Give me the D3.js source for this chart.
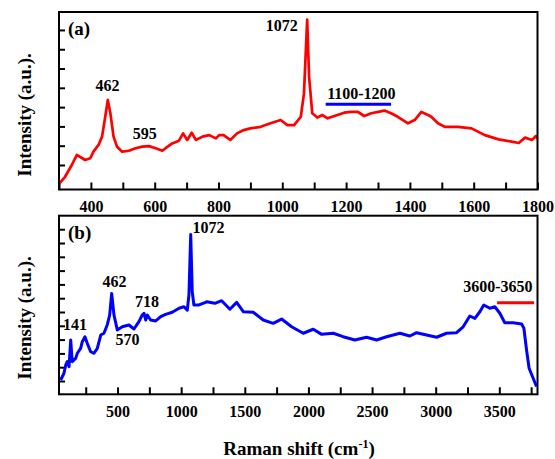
<!DOCTYPE html>
<html>
<head>
<meta charset="utf-8" />
<title>Raman spectra</title>
<script src="https://cdn.jsdelivr.net/npm/d3@7"></script>
<style>
body { margin: 0; background: #fff; }
svg text { font-family: "Liberation Serif", "Times New Roman", serif; font-weight: bold; fill: #000; }
</style>
</head>
<body>
<svg id="chart" width="555" height="459"></svg>
<script>
// panel (a) spectrum, 300-1800 cm-1
var shiftA = [300,319,340,356,382,398,408,424,435,445,453,461,471,482,498,519,540,561,582,603,624,634,655,676,689,702,716,729,750,771,792,802,816,837,858,879,900,932,963,995,1016,1037,1058,1068,1078,1084,1094,1110,1126,1142,1173,1194,1215,1236,1257,1279,1320,1341,1362,1394,1415,1436,1457,1467,1488,1509,1551,1593,1635,1678,1719,1741,1761,1783,1795,1800];
var intA = [0.02,0.39,1.00,1.52,1.26,1.35,1.69,2.04,2.47,3.50,4.37,3.68,2.47,1.95,1.69,1.74,1.87,1.95,1.98,1.87,1.74,1.87,2.12,2.26,2.64,2.30,2.67,2.30,2.47,2.55,2.38,2.55,2.55,2.30,2.64,2.81,2.90,2.98,3.16,3.33,3.07,3.07,3.50,4.71,8.54,5.57,3.68,3.46,3.59,3.42,3.59,3.71,3.75,3.76,3.54,3.68,3.82,3.68,3.50,3.16,3.33,3.75,3.59,3.50,3.16,2.98,2.98,2.90,2.55,2.33,2.21,2.14,2.42,2.30,2.50,2.35];

// panel (b) spectrum, 40-3800 cm-1
var shiftB = [53,79,93,105,119,132,144,171,184,210,223,244,262,289,315,341,368,393,419,438,454,472,498,537,590,629,668,694,708,721,734,760,800,839,878,930,983,1022,1048,1061,1075,1087,1100,1140,1192,1200,1265,1318,1383,1436,1488,1566,1645,1723,1789,1868,1959,2038,2104,2195,2273,2365,2457,2536,2614,2719,2797,2850,3007,3085,3164,3216,3268,3308,3347,3378,3425,3465,3504,3543,3609,3675,3693,3714,3734,3766,3792];
var intB = [1.07,1.56,2.16,2.40,2.04,3.97,2.40,2.64,3.01,3.37,3.85,4.21,3.73,3.12,3.01,3.37,4.33,4.46,5.06,5.78,7.35,5.78,4.70,4.93,5.06,4.77,5.30,5.78,5.91,5.42,5.78,5.42,5.35,5.66,5.83,5.98,6.27,6.38,6.14,7.23,11.62,7.47,6.51,6.51,6.70,6.75,6.63,6.82,6.20,6.70,6.02,5.98,5.42,5.18,5.49,4.93,4.46,4.75,4.38,4.46,4.21,3.97,4.17,3.97,4.21,4.46,4.26,4.50,4.17,4.46,4.50,4.93,5.71,5.54,6.02,6.51,6.27,6.38,5.91,5.22,5.22,5.13,4.82,3.25,1.92,1.20,0.60];

// axis ticks
var xTicksA = d3.range(300, 1801, 100);
var xLabelsA = [400, 600, 800, 1000, 1200, 1400, 1600, 1800];
var yTicksA = d3.range(1, 9);
var xTicksB = d3.range(250, 3751, 250);
var xLabelsB = [500, 1000, 1500, 2000, 2500, 3000, 3500];
var yTicksB = d3.range(1, 13);

// peak labels [text, shift, intensity]
var peaksA = [["462", 452, 4.83], ["595", 569, 2.35], ["1072", 998, 7.94], ["1100-1200", 1248, 4.42]];
var peaksB = [["141", 166, 4.70], ["462", 476, 7.81], ["570", 578, 3.61], ["718", 731, 6.36], ["1072", 1214, 11.72], ["3600-3650", 3488, 7.45]];
// range bars [from, to, intensity]
var bandA = [1136, 1341, 4.15];
var bandB = [3483, 3773, 6.67];

var svg = d3.select("#chart");

function panel(opt) {
	var x = d3.scaleLinear().domain(opt.xDomain).range([59, 537.5]);
	var y = d3.scaleLinear().domain(opt.yDomain).range([opt.bottom, opt.top]);
	var g = svg.append("g");

	// ticks inside the frame
	g.append("g")
		.attr("transform", "translate(0," + opt.bottom + ")")
		.call(d3.axisBottom(x).tickValues(opt.xTicks).tickSizeInner(-7).tickSizeOuter(0).tickPadding(11)
			.tickFormat(function(d) { return opt.xLabels.indexOf(d) >= 0 ? d : ""; }))
		.call(function(a) {
			a.select(".domain").remove();
			a.selectAll("line").attr("stroke", "#000").attr("stroke-width", 2);
			a.selectAll("text").style("font-size", "16px").attr("fill", "#000");
		});
	g.append("g")
		.attr("transform", "translate(59,0)")
		.call(d3.axisLeft(y).tickValues(opt.yTicks).tickSizeInner(-6).tickSizeOuter(0).tickFormat(""))
		.call(function(a) {
			a.select(".domain").remove();
			a.selectAll("line").attr("stroke", "#000").attr("stroke-width", 2);
		});

	var line = d3.line()
		.x(function(d) { return x(d[0]); })
		.y(function(d) { return y(d[1]); });
	g.append("path")
		.datum(d3.zip(opt.xs, opt.ys))
		.attr("d", line)
		.attr("fill", "none")
		.attr("stroke", opt.color)
		.attr("stroke-width", opt.width)
		.attr("stroke-linejoin", "round");

	g.append("line")
		.attr("x1", x(opt.band[0])).attr("x2", x(opt.band[1]))
		.attr("y1", y(opt.band[2])).attr("y2", y(opt.band[2]))
		.attr("stroke", opt.bandColor).attr("stroke-width", 3);

	g.selectAll("text.peak")
		.data(opt.peaks)
		.enter()
		.append("text")
		.attr("class", "peak")
		.attr("x", function(d) { return x(d[1]); })
		.attr("y", function(d) { return y(d[2]); })
		.attr("text-anchor", "middle")
		.style("font-size", "16px")
		.text(function(d) { return d[0]; });

	g.append("text")
		.attr("x", 68).attr("y", opt.top + 23)
		.style("font-size", "19px")
		.text(opt.name);

	g.append("rect")
		.attr("x", 59).attr("y", opt.top)
		.attr("width", 478.5).attr("height", opt.bottom - opt.top)
		.attr("fill", "none").attr("stroke", "#000").attr("stroke-width", 2);

	g.append("text")
		.attr("transform", "translate(31," + opt.titleY + ") rotate(-90)")
		.attr("text-anchor", "middle")
		.style("font-size", "19px")
		.text("Intensity (a.u.).");
}

panel({ xDomain: [300, 1800], yDomain: [-0.27, 8.93], top: 12, bottom: 189.5,
	xTicks: xTicksA, xLabels: xLabelsA, yTicks: yTicksA, xs: shiftA, ys: intA,
	color: "#ff0000", width: 2.7, band: bandA, bandColor: "#0000ff", peaks: peaksA,
	name: "(a)", titleY: 115 });

panel({ xDomain: [40, 3800], yDomain: [0.036, 12.98], top: 215.7, bottom: 394.3,
	xTicks: xTicksB, xLabels: xLabelsB, yTicks: yTicksB, xs: shiftB, ys: intB,
	color: "#0000ff", width: 3, band: bandB, bandColor: "#ff0000", peaks: peaksB,
	name: "(b)", titleY: 318 });

var title = svg.append("text")
	.attr("x", 299).attr("y", 455)
	.attr("text-anchor", "middle")
	.style("font-size", "19px");
title.append("tspan").text("Raman shift (cm");
title.append("tspan").attr("dy", -7).style("font-size", "12px").text("-1");
title.append("tspan").attr("dy", 7).text(")");
</script>
</body>
</html>
